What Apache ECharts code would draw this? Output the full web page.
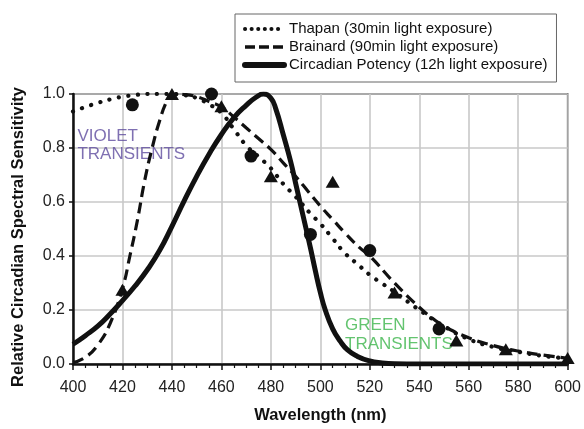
<!DOCTYPE html>
<html>
<head>
<meta charset="utf-8">
<script src="https://cdn.jsdelivr.net/npm/echarts@6/dist/echarts.min.js"></script>
<style>
html,body{margin:0;padding:0;background:#fff;}
#chart{width:584px;height:429px;}
</style>
</head>
<body>
<div id="chart"></div>
<script>
// ---- data ----
var seriesNames = ['Thapan (30min light exposure)', 'Brainard (90min light exposure)', 'Circadian Potency (12h light exposure)'];

var thapanCurve = [[400,0.935],[405,0.952],[410,0.967],[415,0.98],[420,0.99],[425,0.996],[430,1.0],[435,1.0],[440,1.0],[445,0.996],[450,0.985],[455,0.962],[460,0.93],[465,0.87],[470,0.81],[476,0.76],[480,0.725],[485,0.667],[490,0.62],[496,0.557],[500,0.52],[505,0.465],[510,0.41],[515,0.37],[520,0.33],[525,0.298],[530,0.267],[540,0.2],[550,0.14],[560,0.092],[570,0.063],[580,0.045],[590,0.03],[600,0.02]];

var brainardCurve = [[400,0.005],[405,0.025],[410,0.07],[415,0.15],[420,0.28],[423,0.4],[426,0.53],[429,0.68],[432,0.8],[435,0.9],[438,0.975],[440,1.0],[445,0.998],[450,0.99],[455,0.972],[460,0.952],[465,0.915],[470,0.875],[475,0.835],[480,0.795],[485,0.745],[490,0.695],[495,0.64],[500,0.585],[505,0.535],[510,0.485],[516,0.43],[520,0.4],[530,0.3],[540,0.21],[546,0.165],[550,0.14],[560,0.097],[570,0.068],[576,0.055],[580,0.048],[590,0.033],[600,0.022]];

var potencyCurve = [[400,0.073],[405,0.105],[410,0.14],[415,0.185],[420,0.235],[425,0.288],[430,0.348],[435,0.42],[440,0.51],[445,0.605],[450,0.695],[455,0.777],[460,0.85],[465,0.912],[470,0.958],[474,0.988],[477,1.0],[480,0.985],[482,0.945],[485,0.85],[488,0.75],[490,0.67],[492,0.59],[494,0.51],[496,0.43],[498,0.345],[500,0.265],[502,0.2],[505,0.13],[508,0.085],[511,0.052],[515,0.028],[520,0.011],[525,0.004],[530,0.001],[540,0],[560,0],[580,0],[600,0]];

var thapanPoints = [[424,0.96],[456,1.0],[472,0.77],[496,0.48],[520,0.42],[548,0.13]];
var brainardPoints = [[420,0.275],[440,1.0],[460,0.955],[480,0.695],[505,0.675],[530,0.265],[555,0.087],[575,0.055],[600,0.022]];

var xTicks = {min:400, max:600, interval:20};
var yTicks = {min:0, max:1, interval:0.2};

var annotations = [
  {text:'VIOLET\nTRANSIENTS', at:[401.8,0.81], color:'#5f4c9f'},
  {text:'GREEN\nTRANSIENTS', at:[510,0.108], color:'#3cb54b'}
];

// ---- chart ----
var chart = echarts.init(document.getElementById('chart'), null, {renderer:'canvas'});
var FONT = 'Liberation Sans, Arial, sans-serif';

var styles = [
  {color:'#111', width:4.2, type:[0.1,9.5], cap:'round'},
  {color:'#111', width:3.2, type:[11,6]},
  {color:'#111', width:5}
];
var legendStyles = [
  {color:'#111', width:4, type:[0.1,6.5], cap:'round'},
  {color:'#111', width:3.5, type:[10,4]},
  {color:'#111', width:6, cap:'round'}
];

var annoSeries = annotations.map(function(a){
  return {
    type:'scatter', symbolSize:0, silent:true, z:1,
    data:[{value:a.at}],
    label:{show:true, position:'right', distance:0, formatter:a.text, color:a.color,
      fontFamily:FONT, fontSize:17, lineHeight:18.5, align:'left', verticalAlign:'middle'}
  };
});

chart.setOption({
  animation:false,
  backgroundColor:'#fff',
  textStyle:{fontFamily:FONT},
  grid:{left:73, right:16, top:94, bottom:62, show:true, borderColor:'#111', borderWidth:1.5, backgroundColor:'transparent'},
  legend:{
    data:seriesNames.map(function(n,i){ return {name:n, lineStyle:legendStyles[i], itemStyle:{opacity:0}}; }),
    orient:'vertical', left:235, top:14,
    padding:[6,9,8,7],
    itemWidth:39, itemHeight:18, itemGap:0,
    itemStyle:{opacity:0},
    borderColor:'#666', borderWidth:1, backgroundColor:'#fff',
    textStyle:{fontFamily:FONT, fontSize:15, color:'#111', lineHeight:18},
    selectedMode:false
  },
  xAxis:{
    type:'value', min:xTicks.min, max:xTicks.max, interval:xTicks.interval,
    name:'Wavelength (nm)', nameLocation:'middle', nameGap:43,
    nameTextStyle:{fontFamily:FONT, fontSize:16.5, fontWeight:'bold', color:'#111'},
    axisLine:{show:true, onZero:false, lineStyle:{color:'#111', width:2.5}},
    axisTick:{show:true, length:6, lineStyle:{color:'#111', width:1.5}},
    minorTick:{show:true, splitNumber:4, length:4, lineStyle:{color:'#111', width:1.2}},
    axisLabel:{fontFamily:FONT, fontSize:16, color:'#222', margin:16},
    splitLine:{show:true, lineStyle:{color:'#c8c8c8', width:1.6}}
  },
  yAxis:{
    type:'value', min:yTicks.min, max:yTicks.max, interval:yTicks.interval,
    name:'Relative Circadian Spectral Sensitivity', nameLocation:'middle', nameGap:46,
    nameTextStyle:{fontFamily:FONT, fontSize:16.5, fontWeight:'bold', color:'#111', padding:[0,16,0,0]},
    axisLine:{show:true, lineStyle:{color:'#111', width:2.5}},
    axisTick:{show:true, length:4, lineStyle:{color:'#111', width:1.5}},
    axisLabel:{fontFamily:FONT, fontSize:16, color:'#222', margin:8, formatter:function(v){return v.toFixed(1);}},
    splitLine:{show:true, lineStyle:{color:'#c8c8c8', width:1.6}}
  },
  series:[
    {name:seriesNames[0], type:'line', data:thapanCurve, smooth:0.5, symbol:'none', z:3,
      lineStyle:styles[0], itemStyle:{color:'#111'}},
    {name:seriesNames[1], type:'line', data:brainardCurve, smooth:0.5, symbol:'none', z:3,
      lineStyle:styles[1], itemStyle:{color:'#111'}},
    {name:seriesNames[2], type:'line', data:potencyCurve, smooth:0.5, symbol:'none', z:4,
      lineStyle:styles[2], itemStyle:{color:'#111'}},
    {name:'Thapan data', type:'scatter', data:thapanPoints, symbol:'circle', symbolSize:13, z:5,
      itemStyle:{color:'#111', opacity:1}},
    {name:'Brainard data', type:'scatter', data:brainardPoints, symbol:'triangle', symbolSize:[14,12], z:5,
      itemStyle:{color:'#111', opacity:1}}
  ].concat(annoSeries)
});
</script>
</body>
</html>
